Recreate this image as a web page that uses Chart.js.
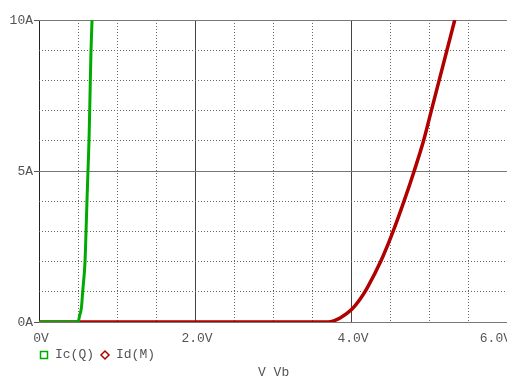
<!DOCTYPE html>
<html>
<head>
<meta charset="utf-8">
<script src="https://cdn.jsdelivr.net/npm/chart.js@4.4.1/dist/chart.umd.min.js"></script>
<style>
  html, body { margin: 0; padding: 0; background: #fff; overflow: hidden; }
  #wrap { width: 507px; height: 376px; }
</style>
</head>
<body>
<div id="wrap"><canvas id="ivChart" width="507" height="376"></canvas></div>
<script>
// Ic(Q) - bipolar transistor collector current vs V_Vb
const icVolts = [0, 0.50, 0.52, 0.545, 0.56, 0.59, 0.603, 0.615, 0.628, 0.641, 0.65, 0.658, 0.667, 0.68];
const icAmps  = [0, 0,    0.2,  0.5,   1,    2,    3,     4,     5,     6,     7,    8,     9,     10];

// Id(M) - MOSFET drain current vs V_Vb
const idVolts = [0, 3.71, 3.78, 3.86, 4.01, 4.12, 4.21, 4.38, 4.54, 4.68, 4.81, 4.93, 5.03, 5.13, 5.23, 5.33];
const idAmps  = [0, 0,    0.04, 0.13, 0.42, 0.77, 1.14, 2,    3,    4,    5,    6,    7,    8,    9,    10];

const seriesNames = ["Ic(Q)", "Id(M)"];
const xTickValues = [0, 2, 4, 6];
const xTickLabels = ["0V", "2.0V", "4.0V", "6.0V"];
const yTickValues = [0, 5, 10];
const yTickLabels = ["0A", "5A", "10A"];
const xAxisTitle = "V_Vb";

const toPoints = (xs, ys) => xs.map((x, i) => ({ x: x, y: ys[i] }));

// Labels, tick marks and legend drawn in PSpice style
const probeLabels = {
  id: "probeLabels",
  afterDraw(chart) {
    const ctx = chart.ctx;
    const xs = chart.scales.x;
    const ys = chart.scales.y;
    const area = chart.chartArea;
    ctx.save();
    ctx.font = "13px 'Liberation Mono', monospace";
    ctx.fillStyle = "#555";
    ctx.strokeStyle = "#555";
    ctx.lineWidth = 1;

    // y labels + small ticks
    ctx.textAlign = "right";
    ctx.textBaseline = "middle";
    yTickValues.forEach((v, i) => {
      const py = Math.round(ys.getPixelForValue(v)) + 0.5;
      ctx.fillText(yTickLabels[i], area.left - 6, py);
      ctx.beginPath();
      ctx.moveTo(area.left - 5, py);
      ctx.lineTo(area.left, py);
      ctx.stroke();
    });

    // x labels (last one pushed inside, as the plot runs to the edge)
    xTickValues.forEach((v, i) => {
      const px = xs.getPixelForValue(v);
      if (i === xTickValues.length - 1) {
        ctx.textAlign = "right";
        ctx.fillText(xTickLabels[i], chart.width + 4, area.bottom + 17);
      } else {
        ctx.textAlign = "center";
        ctx.fillText(xTickLabels[i], px + 2, area.bottom + 17);
      }
    });

    // legend
    ctx.textAlign = "left";
    const ly = area.bottom + 33;
    let lx = area.left + 1;
    chart.data.datasets.forEach((ds, i) => {
      ctx.strokeStyle = ds.borderColor;
      ctx.lineWidth = 1.5;
      ctx.beginPath();
      if (i === 0) {
        ctx.rect(lx + 0.5, ly - 3.5, 7, 7);
      } else {
        ctx.moveTo(lx + 4, ly - 4);
        ctx.lineTo(lx + 8, ly);
        ctx.lineTo(lx + 4, ly + 4);
        ctx.lineTo(lx, ly);
        ctx.closePath();
      }
      ctx.stroke();
      ctx.fillStyle = "#555";
      ctx.fillText(ds.label, lx + 15, ly);
      lx += 61;
    });

    // x axis title
    ctx.fillText(xAxisTitle, 258, area.bottom + 51);
    ctx.restore();
  }
};

new Chart(document.getElementById("ivChart"), {
  type: "scatter",
  data: {
    datasets: [
      {
        label: seriesNames[0],
        data: toPoints(icVolts, icAmps),
        showLine: true,
        borderColor: "#00aa00",
        borderWidth: 3,
        pointRadius: 0,
        cubicInterpolationMode: "monotone",
      },
      {
        label: seriesNames[1],
        data: toPoints(idVolts, idAmps),
        showLine: true,
        borderColor: "#b00000",
        borderWidth: 3.5,
        pointRadius: 0,
        cubicInterpolationMode: "monotone",
      },
    ],
  },
  options: {
    responsive: false,
    animation: false,
    layout: {
      padding: { left: 39, top: 20, right: 0, bottom: 54 },
    },
    plugins: {
      legend: { display: false },
      tooltip: { enabled: false },
    },
    scales: {
      x: {
        type: "linear",
        min: 0,
        max: 6,
        ticks: { display: false, stepSize: 0.5 },
        border: {
          display: false,
          dash: (c) => (c.tick && c.tick.value % 2 === 0 ? [] : [1, 2]),
        },
        grid: {
          drawTicks: false,
          lineWidth: 1,
          color: (c) => {
            if (!c.tick) return "#666";
            if (c.tick.value === 0) return "#222";
            return c.tick.value % 2 === 0 ? "#444" : "#666";
          },
        },
      },
      y: {
        type: "linear",
        min: 0,
        max: 10,
        ticks: { display: false, stepSize: 1 },
        border: {
          display: false,
          dash: (c) => (c.tick && c.tick.value % 5 === 0 ? [] : [1, 2]),
        },
        grid: {
          drawTicks: false,
          lineWidth: 1,
          color: (c) => (c.tick && c.tick.value % 5 === 0 ? "#777" : "#666"),
        },
      },
    },
  },
  plugins: [probeLabels],
});
</script>
</body>
</html>
